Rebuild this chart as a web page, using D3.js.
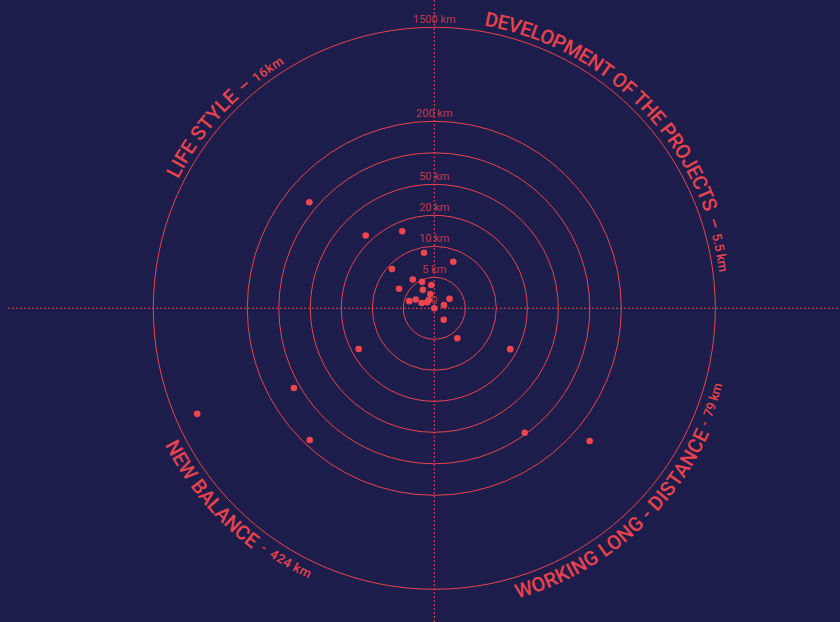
<!DOCTYPE html>
<html><head><meta charset="utf-8">
<script src="https://cdn.jsdelivr.net/npm/d3@7"></script>
<style>html,body{margin:0;padding:0;background:#1c1d4a;} svg{display:block}</style>
</head><body>
<svg id="chart" width="840" height="622"></svg>
<script>
// ---- data ----
const ringKm = [0, 5, 10, 20, 50, 100, 200, 1500];
const ringLabels = ["0", "5 km", "10 km", "20 km", "50 km", "", "200 km", "1500 km"];
const pointKm = [126.7, 26.8, 16.9, 9.1, 8.1, 9.3, 5.8, 4.7, 3.8, 6.5, 3.5, 2.4, 2.9, 3.3, 4.2, 2.2, 1.5, 1.6, 1.65, 0, 2.4, 6.1, 17.7, 17.8, 118.7, 1203, 181.9, 97.3, 439];
const pointAngle = [310.3, 316.7, 337.4, 349.5, 22.2, 312.8, 323.3, 335.2, 352.7, 299, 328.3, 344.4, 58.1, 295.2, 285.9, 293, 311.6, 326, 71.2, 0, 140.5, 142.5, 241.7, 118.3, 240.4, 246, 223.4, 144, 130.5];
const categories = ["LIFE STYLE", "DEVELOPMENT OF THE PROJECTS", "WORKING LONG - DISTANCE", "NEW BALANCE"];
const categoryDash = ["–", "–", "-", "-"];
const categoryValues = ["16km", "5.5 km", "79 km", "424 km"];

// ---- layout ----
const W = 840, H = 622, cx = 434.3, cy = 308.3;
const RED = "#e8434e";
const labelLayout = [
  {dir: "cw",  name: [296.6, 317.0], dash: 318.3, dashSize: 17, value: [321.6, 328.4]},
  {dir: "cw",  name: [9.95, 70.5],   dash: 72.0,  dashSize: 17, value: [75.1, 82.8]},
  {dir: "ccw", name: [164.1, 114.5], dash: 113.6, dashSize: 13, value: [111.7, 104.9]},
  {dir: "ccw", name: [243.2, 217.2], dash: 215.9, dashSize: 13, value: [213.8, 205.0]}
];

const r = d3.scaleLinear().domain(ringKm).range([0, 31, 62, 93, 124, 155.5, 187, 281]);

const svg = d3.select("#chart");
svg.append("rect").attr("width", W).attr("height", H).attr("fill", "#1c1d4a");

// axes (dashed)
svg.append("line").attr("x1", 8).attr("x2", W).attr("y1", cy).attr("y2", cy)
  .attr("stroke", RED).attr("stroke-width", 1).attr("stroke-dasharray", "2,2");
svg.append("line").attr("x1", cx).attr("x2", cx).attr("y1", 0).attr("y2", H)
  .attr("stroke", RED).attr("stroke-width", 1).attr("stroke-dasharray", "2,2");

const g = svg.append("g").attr("transform", `translate(${cx},${cy})`);

// rings
g.selectAll("circle.ring").data(ringKm.filter(d => d > 0)).join("circle")
  .attr("class", "ring").attr("r", d => r(d))
  .attr("fill", "none").attr("stroke", RED).attr("stroke-width", 1);

// ring labels
g.selectAll("text.rl").data(ringKm).join("text")
  .attr("class", "rl")
  .attr("x", 0).attr("y", d => -r(d) - 8)
  .attr("dy", "0.35em")
  .attr("text-anchor", "middle")
  .attr("font-family", "Roboto, 'DejaVu Sans', sans-serif")
  .attr("font-size", 11)
  .attr("fill", RED).attr("fill-opacity", 0.8)
  .text((d, i) => ringLabels[i]);

// points
const pts = pointKm.map((k, i) => ({k, a: pointAngle[i]}));
g.selectAll("circle.pt").data(pts).join("circle")
  .attr("class", "pt")
  .attr("cx", d => r(d.k) * Math.sin(d.a * Math.PI / 180))
  .attr("cy", d => -r(d.k) * Math.cos(d.a * Math.PI / 180))
  .attr("r", 3.3)
  .attr("fill", "#f0454f");

// curved category labels
const Rcw = 287, Rccw = 302, RccwSmall = 298;
const defs = svg.append("defs");
function circlePath(R, dir) {
  const s = dir === "cw" ? 1 : 0;
  return `M0,${-R} A${R},${R} 0 1 ${s} 0,${R} A${R},${R} 0 1 ${s} 0,${-R}`;
}
[["cw", Rcw], ["ccw", Rccw], ["ccwS", RccwSmall]].forEach(([id, R]) => {
  defs.append("path").attr("id", "p-" + id)
    .attr("d", circlePath(R, id === "cw" ? "cw" : "ccw"))
    .attr("transform", `translate(${cx},${cy})`);
});

function placeText(pathKey, R, dir, text, a0, a1, size) {
  const t = svg.append("text")
    .attr("font-family", "Roboto, 'DejaVu Sans', sans-serif")
    .attr("font-weight", 500)
    .attr("font-size", size)
    .attr("fill", RED);
  const off = dir === "cw" ? a0 : 360 - a0;
  t.append("textPath").attr("href", "#p-" + pathKey)
    .attr("startOffset", off * Math.PI / 180 * R)
    .text(text);
  if (a1 != null && text.length > 1) {
    const target = Math.abs(a1 - a0) * Math.PI / 180 * R;
    const natural = t.node().getComputedTextLength();
    t.attr("letter-spacing", (target - natural) / (text.length - 1));
  }
}

categories.forEach((name, i) => {
  const L = labelLayout[i];
  const bigKey = L.dir === "cw" ? "cw" : "ccw";
  const smallKey = L.dir === "cw" ? "cw" : "ccwS";
  const Rb = L.dir === "cw" ? Rcw : Rccw;
  const Rs = L.dir === "cw" ? Rcw : RccwSmall;
  placeText(bigKey, Rb, L.dir, name, L.name[0], L.name[1], 20);
  placeText(smallKey, L.dashSize > 15 ? Rb : Rs, L.dir, categoryDash[i], L.dash, null, L.dashSize);
  placeText(smallKey, Rs, L.dir, categoryValues[i], L.value[0], L.value[1], 13);
});
</script>
</body></html>
